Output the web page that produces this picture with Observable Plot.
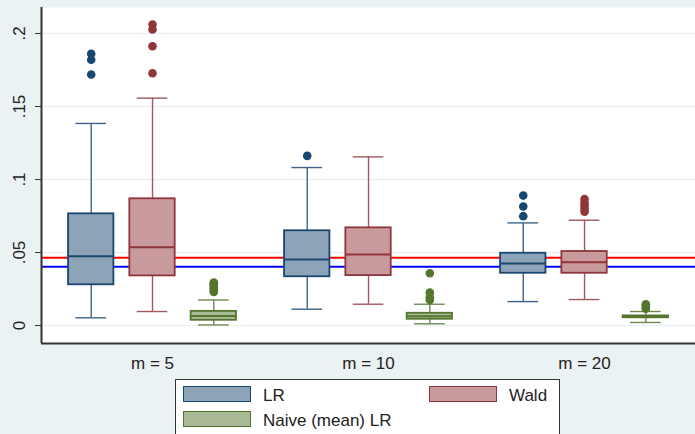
<!DOCTYPE html>
<html>
<head>
<meta charset="utf-8">
<script src="https://cdn.jsdelivr.net/npm/d3@7"></script>
<script src="https://cdn.jsdelivr.net/npm/@observablehq/plot@0.6"></script>
<style>
  html, body { margin: 0; padding: 0; background: #EAF2F3; overflow: hidden; }
  body { width: 695px; height: 434px; font-family: "Liberation Sans", Arial, sans-serif; }
  #legend { position: relative; margin-left: 175px; margin-top: 7px; width: 383px; height: 62px;
            border: 1px solid #333; background: #fff; }
  .sw { position: absolute; width: 66px; height: 14px; border: 1.5px solid; }
  .lb { position: absolute; font-size: 17px; color: #222; line-height: 17px; }
</style>
</head>
<body>
<div id="chart"></div>
<div id="legend"></div>
<script>
// ---- data ----
const groups = ["m = 5", "m = 10", "m = 20"];
const series = ["LR", "Wald", "Naive (mean) LR"];

const lrLo  = [0.0053, 0.0112, 0.0164];
const lrQ1  = [0.0279, 0.0334, 0.0358];
const lrMed = [0.0475, 0.0452, 0.0425];
const lrQ3  = [0.0765, 0.0649, 0.0495];
const lrHi  = [0.1384, 0.1082, 0.0703];
const lrOut = [[0.1719, 0.1820, 0.1861], [0.1162], [0.0749, 0.0815, 0.0890]];

const waldLo  = [0.0096, 0.0146, 0.0178];
const waldQ1  = [0.0340, 0.0342, 0.0358];
const waldMed = [0.0536, 0.0486, 0.0434];
const waldQ3  = [0.0868, 0.0669, 0.0507];
const waldHi  = [0.1557, 0.1155, 0.0721];
const waldOut = [[0.1728, 0.1913, 0.2027, 0.2062], [], [0.0780, 0.0800, 0.0820, 0.0840, 0.0866]];

const naiveLo  = [0.0004, 0.0012, 0.0021];
const naiveQ1  = [0.0036, 0.0043, 0.0053];
const naiveMed = [0.0066, 0.0064, 0.0060];
const naiveQ3  = [0.0097, 0.0084, 0.0066];
const naiveHi  = [0.0175, 0.0146, 0.0096];
const naiveOut = [[0.0230, 0.0240, 0.0250, 0.0260, 0.0270, 0.0280, 0.0290, 0.0295],
                  [0.0175, 0.0194, 0.0226, 0.0358],
                  [0.0115, 0.0125, 0.0135, 0.0145]];

const refLines = [0.0464, 0.0402];          // red, blue horizontal lines
const yTicks = [0, 0.05, 0.1, 0.15, 0.2];
const yTickLabels = ["0", ".05", ".1", ".15", ".2"];

// ---- layout (in box-step units along x) ----
const groupStride = 3.524;   // distance between group centres
const boxHalf = 0.37;        // half box width
const capHalf = 0.25;        // half whisker-cap width
const xDomain = [-1.811, 8.858];
const yDomain = [-0.0123, 0.2178];

// ---- styles ----
const strokeColors  = ["#1A476F", "#90353B", "#55752F"];
const whiskerColors = ["#3F6388", "#A4585D", "#6E8A4E"];
const fillColors    = ["#8DA3B7", "#C89A9D", "#AABA97"];
const refColors     = ["#FF0000", "#0000FF"];
const bg = "#EAF2F3";

// ---- tables built from the arrays ----
const stats = [
  [lrLo, lrQ1, lrMed, lrQ3, lrHi, lrOut],
  [waldLo, waldQ1, waldMed, waldQ3, waldHi, waldOut],
  [naiveLo, naiveQ1, naiveMed, naiveQ3, naiveHi, naiveOut]
];
const rows = [];
const outRows = [];
groups.forEach((g, i) => series.forEach((s, j) => {
  const [lo, q1, med, q3, hi, out] = stats[j];
  const x = i * groupStride + (j - 1);
  rows.push({group: g, series: s, k: j, x, lo: lo[i], q1: q1[i], med: med[i], q3: q3[i], hi: hi[i]});
  out[i].forEach(v => outRows.push({group: g, series: s, k: j, x, y: v}));
}));
const refRows = refLines.map((v, i) => ({y: v, c: refColors[i]}));
const groupTicks = groups.map((g, i) => i * groupStride);

const chart = Plot.plot({
  width: 695, height: 372,
  marginLeft: 41, marginRight: 0, marginTop: 7, marginBottom: 29,
  style: {background: bg, fontFamily: "'Liberation Sans', Arial, sans-serif", fontSize: "17px"},
  x: {domain: xDomain},
  y: {domain: yDomain},
  color: {type: "identity"},
  marks: [
    Plot.frame({fill: "white", stroke: "none"}),
    Plot.ruleY(yTicks, {stroke: bg, strokeWidth: 1.5}),
    Plot.ruleY(refRows, {y: "y", stroke: "c", strokeWidth: 2}),
    Plot.ruleX(rows, {x: "x", y1: "lo", y2: "q1", stroke: d => whiskerColors[d.k], strokeWidth: 1.4}),
    Plot.ruleX(rows, {x: "x", y1: "q3", y2: "hi", stroke: d => whiskerColors[d.k], strokeWidth: 1.4}),
    Plot.ruleY(rows, {y: "lo", x1: d => d.x - capHalf, x2: d => d.x + capHalf, stroke: d => whiskerColors[d.k], strokeWidth: 1.4}),
    Plot.ruleY(rows, {y: "hi", x1: d => d.x - capHalf, x2: d => d.x + capHalf, stroke: d => whiskerColors[d.k], strokeWidth: 1.4}),
    Plot.rect(rows, {x1: d => d.x - boxHalf, x2: d => d.x + boxHalf, y1: "q1", y2: "q3",
                     fill: d => fillColors[d.k], stroke: d => strokeColors[d.k], strokeWidth: 1.8}),
    Plot.ruleY(rows, {y: "med", x1: d => d.x - boxHalf, x2: d => d.x + boxHalf, stroke: d => strokeColors[d.k], strokeWidth: 2}),
    Plot.dot(outRows, {x: "x", y: "y", r: 4.3, fill: d => strokeColors[d.k], stroke: "none"}),
    Plot.ruleY([yDomain[0]], {stroke: "#333", strokeWidth: 2}),
    Plot.ruleX([xDomain[0]], {stroke: "#333", strokeWidth: 2}),
    Plot.axisY(yTicks, {
      anchor: "left", tickSize: 6, tickPadding: 11, tickRotate: -90,
      tickFormat: d => yTickLabels[yTicks.indexOf(d)],
      textAnchor: "middle", lineAnchor: "bottom", fontSize: 17, fill: "#222", stroke: "#333", label: null
    }),
    Plot.axisX(groupTicks, {
      anchor: "bottom", tickSize: 0, tickPadding: 13, fontSize: 17, fill: "#222", label: null,
      tickFormat: d => groups[groupTicks.indexOf(d)]
    })
  ]
});
document.getElementById("chart").append(chart);

// ---- legend (HTML, below the SVG) ----
const legend = document.getElementById("legend");
const legendPos = [[7, 6, 87], [253, 6, 333], [7, 31, 87]];
series.forEach((s, j) => {
  const [sx, sy, lx] = legendPos[j];
  const sw = document.createElement("div");
  sw.className = "sw";
  sw.style.left = sx + "px"; sw.style.top = sy + "px";
  sw.style.background = fillColors[j]; sw.style.borderColor = strokeColors[j];
  legend.append(sw);
  const lb = document.createElement("div");
  lb.className = "lb";
  lb.style.left = lx + "px"; lb.style.top = (sy + 1) + "px";
  lb.textContent = s;
  legend.append(lb);
});
</script>
</body>
</html>
